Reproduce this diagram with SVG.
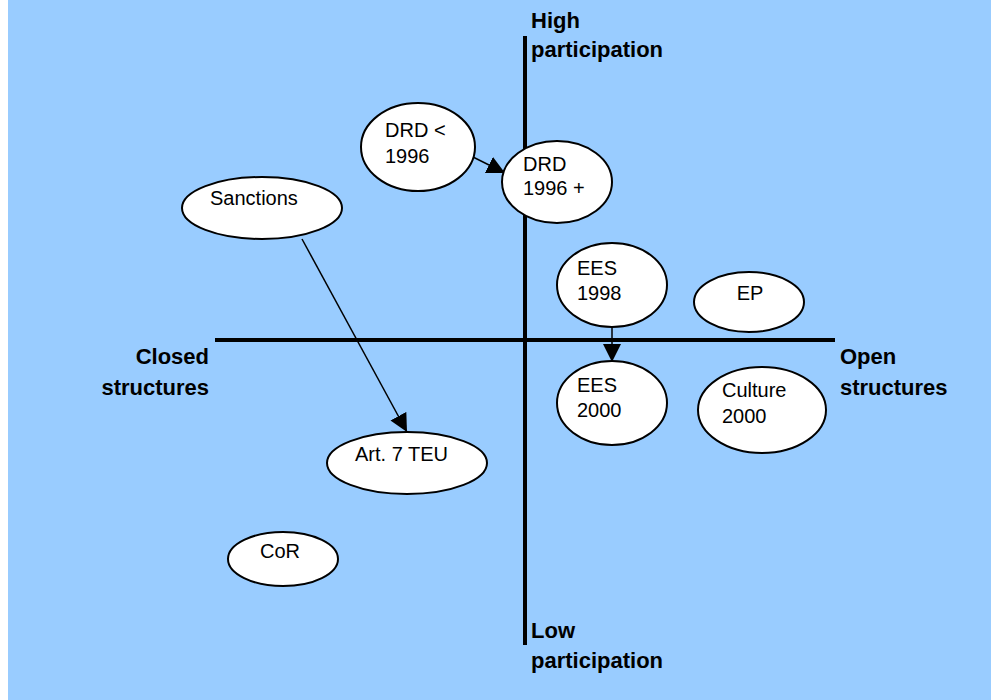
<svg xmlns="http://www.w3.org/2000/svg" width="991" height="700" viewBox="0 0 991 700">
<defs>
<style>
.node ellipse{fill:#fff;stroke:#000;stroke-width:2}
.node text{font-family:"Liberation Sans",Arial,sans-serif;font-size:20px;fill:#000}
.lbl{font-family:"Liberation Sans",Arial,sans-serif;font-size:22px;font-weight:bold;fill:#000}
.axis{stroke:#000;stroke-width:4}
.conn{stroke:#000;stroke-width:1.5;fill:none}
</style>
<marker id="arr" viewBox="0 0 10 10" refX="10" refY="5" markerWidth="18" markerHeight="18" markerUnits="userSpaceOnUse" orient="auto">
<path d="M0,0 L10,5 L0,10 z" fill="#000"/>
</marker>
</defs>
<rect x="0" y="0" width="991" height="700" fill="#fff"/>
<rect x="8" y="0" width="983" height="700" fill="#99CCFF"/>
<g id="axes">
<line class="axis" x1="525" y1="36" x2="525" y2="645"/>
<line class="axis" x1="215" y1="340" x2="835" y2="340"/>
</g>
<g id="labels">
<text class="lbl" x="531" y="28">High</text>
<text class="lbl" x="531" y="57">participation</text>
<text class="lbl" x="531" y="638">Low</text>
<text class="lbl" x="531" y="668">participation</text>
<text class="lbl" x="209" y="364" text-anchor="end">Closed</text>
<text class="lbl" x="209" y="395" text-anchor="end">structures</text>
<text class="lbl" x="840" y="364">Open</text>
<text class="lbl" x="840" y="395">structures</text>
</g>
<g id="connectors">
<line class="conn" x1="473" y1="157" x2="505" y2="173" marker-end="url(#arr)"/>
<line class="conn" x1="302" y1="239" x2="407" y2="432" marker-end="url(#arr)"/>
<line class="conn" x1="612" y1="327" x2="612" y2="362" marker-end="url(#arr)"/>
</g>
<g id="drd-before" class="node">
<ellipse cx="418" cy="147" rx="57" ry="44"/>
<text x="385" y="137">DRD &lt;</text>
<text x="385" y="163">1996</text>
</g>
<g id="drd-after" class="node">
<ellipse cx="557" cy="182" rx="55" ry="41"/>
<text x="523" y="171">DRD</text>
<text x="523" y="195">1996 +</text>
</g>
<g id="sanctions" class="node">
<ellipse cx="262" cy="208" rx="80" ry="31"/>
<text x="210" y="205">Sanctions</text>
</g>
<g id="art7" class="node">
<ellipse cx="407" cy="463" rx="80" ry="31"/>
<text x="355" y="461">Art. 7 TEU</text>
</g>
<g id="ees1998" class="node">
<ellipse cx="612" cy="285" rx="55" ry="42"/>
<text x="577" y="275">EES</text>
<text x="577" y="300">1998</text>
</g>
<g id="ep" class="node">
<ellipse cx="749" cy="302" rx="55" ry="30"/>
<text x="750" y="300" text-anchor="middle">EP</text>
</g>
<g id="ees2000" class="node">
<ellipse cx="612" cy="403" rx="55" ry="42"/>
<text x="577" y="392">EES</text>
<text x="577" y="417">2000</text>
</g>
<g id="culture2000" class="node">
<ellipse cx="762" cy="410" rx="64" ry="43"/>
<text x="722" y="397">Culture</text>
<text x="722" y="423">2000</text>
</g>
<g id="cor" class="node">
<ellipse cx="283" cy="559" rx="55" ry="27"/>
<text x="280" y="558" text-anchor="middle">CoR</text>
</g>
</svg>
